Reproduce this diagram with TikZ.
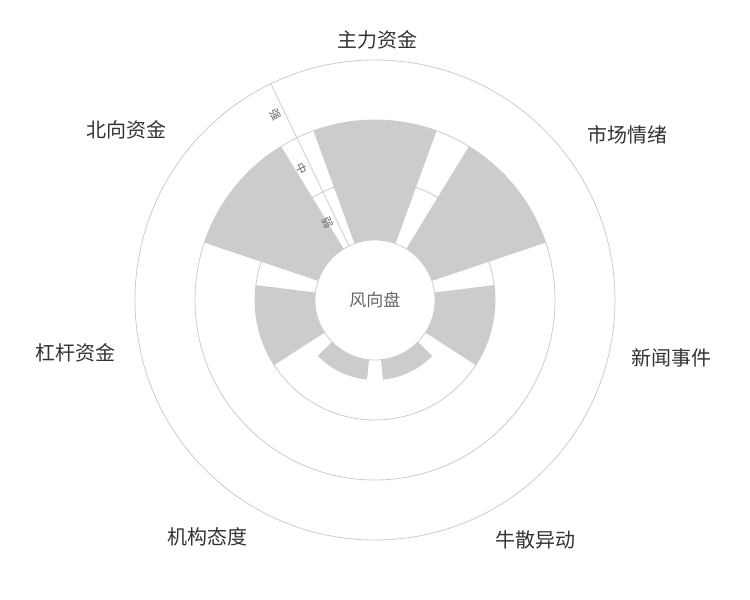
\documentclass[tikz,border=0pt]{standalone}
\usepackage{fontspec}
\setmainfont{Noto Sans CJK SC}
\usepackage{xcolor}
\usetikzlibrary{positioning, calc}

\definecolor{barfill}{HTML}{CCCCCC}
\definecolor{gridline}{HTML}{CCCCCC}
\definecolor{labeltext}{HTML}{333333}
\definecolor{axistext}{HTML}{666666}

\begin{document}
\begin{tikzpicture}[
    ring/.style={draw=gridline, line width=0.8pt},
    bar/.style={fill=barfill, draw=none},
    cat/.style={font=\fontsize{20}{24}\selectfont, text=labeltext, inner sep=0pt},
    lvl/.style={font=\fontsize{11}{13}\selectfont, text=axistext, inner sep=0pt}
]
\useasboundingbox (-375pt,-300pt) rectangle (375pt,300pt);

% Grid circles
\draw[ring] (0,0) circle[radius=120pt];
\draw[ring] (0,0) circle[radius=180pt];
\draw[ring] (0,0) circle[radius=240pt];

% Bars (angle/outer radius)
\foreach \a/\r in {90/180, 38.57/180, -12.86/120, -64.29/80, -115.71/80, -167.14/120, 141.43/180}{
  \fill[bar] (\a-20:60pt) arc[start angle=\a-20, end angle=\a+20, radius=60pt]
    -- (\a+20:\r pt) arc[start angle=\a+20, end angle=\a-20, radius=\r pt] -- cycle;
}

% Centre hole
\fill[white] (0,0) circle[radius=60pt];
\draw[ring] (0,0) circle[radius=60pt];
\node[font=\fontsize{17}{20}\selectfont, text=axistext] (title) at (0,0) {风向盘};

% Radial axis
\coordinate (ax0) at (115.71:60pt);
\coordinate (ax1) at (115.71:240pt);
\draw[draw=gridline, line width=0.8pt] (ax0) -- (ax1);
\node[lvl, rotate=-64.29] (weak) at ($(115.71:90pt)+(205.71:9pt)$) {弱};
\node[lvl, rotate=-64.29] (mid) at ($(115.71:150pt)+(205.71:9pt)$) {中};
\node[lvl, rotate=-64.29] (strong) at ($(115.71:210pt)+(205.71:9pt)$) {强};

% Category labels
\node[cat] (zl) at (3pt,260pt) {主力资金};
\node[cat] (sc) at (252pt,165pt) {市场情绪};
\node[cat] (xw) at (296pt,-58pt) {新闻事件};
\node[cat] (ns) at (161pt,-240pt) {牛散异动};
\node[cat] (jg) at (-167pt,-237pt) {机构态度};
\node[cat] (gg) at (-299pt,-53pt) {杠杆资金};
\node[cat] (bx) at (-248pt,170pt) {北向资金};

\end{tikzpicture}
\end{document}
